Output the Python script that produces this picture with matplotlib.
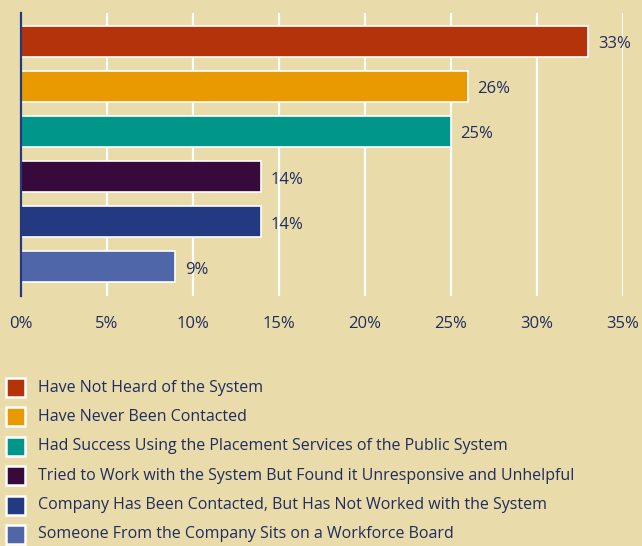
import matplotlib.pyplot as plt
from matplotlib.patches import Rectangle
from matplotlib.ticker import FuncFormatter

plt.rcParams['font.family'] = ['Open Sans', 'DejaVu Sans']

# survey responses, top bar first
responses = [
    "Have Not Heard of the System",
    "Have Never Been Contacted",
    "Had Success Using the Placement Services of the Public System",
    "Tried to Work with the System But Found it Unresponsive and Unhelpful",
    "Company Has Been Contacted, But Has Not Worked with the System",
    "Someone From the Company Sits on a Workforce Board",
]
shares = [33, 26, 25, 14, 14, 9]
bar_colors = ["#B5330A", "#E89A00", "#00968A", "#380A3C", "#233A82", "#4F66A8"]
x_ticks = [0, 5, 10, 15, 20, 25, 30, 35]

bg = "#E9DBAA"
ink = "#1F2D5E"

fig = plt.figure(figsize=(6.42, 5.46), dpi=100, facecolor=bg)
ax = fig.add_axes([0.032, 0.458, 0.938, 0.518], facecolor=bg)

ypos = list(range(len(shares)))
ax.barh(ypos, shares, height=0.69, color=bar_colors, edgecolor="white",
        linewidth=1.2, zorder=3)
for y, v in zip(ypos, shares):
    ax.text(v + 0.55, y + 0.07, f"{v}%", va="center", ha="left", fontsize=12,
            color=ink, zorder=4)

ax.set_xlim(0, 35)
ax.set_ylim(5.65, -0.62)
ax.set_xticks(x_ticks)
ax.xaxis.set_major_formatter(FuncFormatter(lambda v, _: f"{v:.0f}%"))
ax.tick_params(axis="x", length=0, pad=14.5, labelsize=12, labelcolor=ink)
ax.set_yticks([])
ax.grid(axis="x", color="white", linewidth=1.6, zorder=1)
for side in ("top", "right", "bottom"):
    ax.spines[side].set_visible(False)
ax.spines["left"].set_color("#233A82")
ax.spines["left"].set_linewidth(1.6)
ax.spines["left"].set_zorder(5)

# legend drawn as a list of swatches below the chart
W, H = 642, 546
row0, step = 387.5, 29.4
for i, (label, col) in enumerate(zip(responses, bar_colors)):
    yc = row0 + i * step
    fig.patches.append(Rectangle((6 / W, 1 - (yc + 9.5) / H), 19 / W, 19 / H,
                                 transform=fig.transFigure, facecolor=col,
                                 edgecolor="white", linewidth=1.8))
    fig.text(38 / W, 1 - yc / H, label, ha="left", va="center",
             fontsize=11.5, color=ink)

fig.savefig("out.png", dpi=100, facecolor=bg)
